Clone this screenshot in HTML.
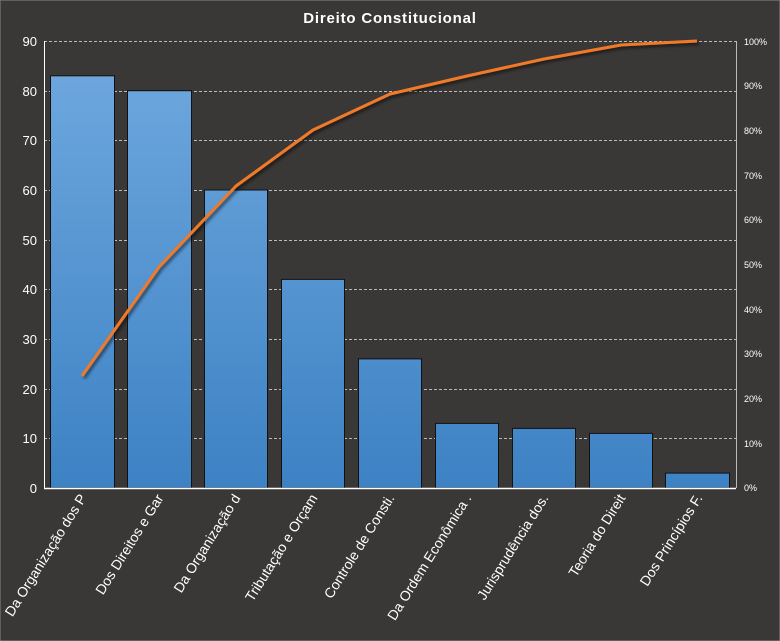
<!DOCTYPE html>
<html><head><meta charset="utf-8"><style>
body{margin:0;background:#3a3836;}
svg{display:block;font-family:"Liberation Sans","DejaVu Sans",sans-serif;}
</style></head><body>
<svg width="780" height="641" viewBox="0 0 780 641" xmlns="http://www.w3.org/2000/svg">
<defs>
<linearGradient id="g" gradientUnits="userSpaceOnUse" x1="0" y1="41" x2="0" y2="488">
<stop offset="0" stop-color="#70a9df"/><stop offset="1" stop-color="#3d82c4"/>
</linearGradient>
<filter id="sh"><feDropShadow dx="2" dy="2" stdDeviation="1.5" flood-color="#000" flood-opacity="0.6"/></filter>
</defs>
<rect x="0" y="0" width="780" height="641" fill="#3a3836" stroke="#888" stroke-width="1"/>
<text x="390" y="23" fill="#fff" font-size="15" font-weight="bold" text-anchor="middle" letter-spacing="0.8">Direito  Constitucional</text>
<g stroke="#bbb" stroke-width="1" stroke-dasharray="3,2">
<line x1="44" x2="736" y1="41.5" y2="41.5"/>
<line x1="44" x2="736" y1="91.5" y2="91.5"/>
<line x1="44" x2="736" y1="140.5" y2="140.5"/>
<line x1="44" x2="736" y1="190.5" y2="190.5"/>
<line x1="44" x2="736" y1="240.5" y2="240.5"/>
<line x1="44" x2="736" y1="289.5" y2="289.5"/>
<line x1="44" x2="736" y1="339.5" y2="339.5"/>
<line x1="44" x2="736" y1="389.5" y2="389.5"/>
<line x1="44" x2="736" y1="438.5" y2="438.5"/>
</g>
<g fill="url(#g)" stroke="#111" stroke-width="1">
<rect x="50.5" y="75.8" width="64" height="412.2"/>
<rect x="127.5" y="90.7" width="64" height="397.3"/>
<rect x="204.5" y="190" width="63" height="298"/>
<rect x="281.5" y="279.4" width="63" height="208.6"/>
<rect x="358.5" y="358.9" width="63" height="129.1"/>
<rect x="435.5" y="423.4" width="63" height="64.6"/>
<rect x="512.5" y="428.4" width="63" height="59.6"/>
<rect x="589.5" y="433.4" width="63" height="54.6"/>
<rect x="665.5" y="473.1" width="64" height="14.9"/>
</g>
<line x1="44" x2="736" y1="488.5" y2="488.5" stroke="#fff" stroke-width="1.5"/>
<line x1="44.5" x2="44.5" y1="41" y2="488" stroke="#fff" stroke-width="1"/>
<line x1="736.5" x2="736.5" y1="41" y2="488" stroke="#bbb" stroke-width="1"/>
<polyline filter="url(#sh)" fill="none" stroke="#f07a2a" stroke-width="3" stroke-linejoin="round" points="82,376 159,267 236,186 313,130 390,94 467,76 544,59 621,45 697,41"/>
<g fill="#fff" font-size="13" text-anchor="end">
<text x="37" y="46">90</text><text x="37" y="96">80</text><text x="37" y="145">70</text>
<text x="37" y="195">60</text><text x="37" y="245">50</text><text x="37" y="294">40</text>
<text x="37" y="344">30</text><text x="37" y="394">20</text><text x="37" y="443">10</text>
<text x="37" y="493">0</text>
</g>
<g fill="#fff" font-size="9">
<text x="744" y="45">100%</text><text x="744" y="89">90%</text><text x="744" y="134">80%</text>
<text x="744" y="179">70%</text><text x="744" y="223">60%</text><text x="744" y="268">50%</text>
<text x="744" y="313">40%</text><text x="744" y="357">30%</text><text x="744" y="402">20%</text>
<text x="744" y="447">10%</text><text x="744" y="491">0%</text>
</g>
<g fill="#fff" font-size="14" text-anchor="end">
<text transform="translate(87,498) rotate(-58)">Da Organização dos P</text>
<text transform="translate(164,498) rotate(-58)">Dos Direitos e Gar</text>
<text transform="translate(241,498) rotate(-58)">Da Organização d</text>
<text transform="translate(318,498) rotate(-58)">Tributação e Orçam</text>
<text transform="translate(395,498) rotate(-58)">Controle de Consti.</text>
<text transform="translate(472,498) rotate(-58)">Da Ordem Econômica .</text>
<text transform="translate(549,498) rotate(-58)">Jurisprudência dos.</text>
<text transform="translate(626,498) rotate(-58)">Teoria do Direit</text>
<text transform="translate(703,498) rotate(-58)">Dos Princípios F.</text>
</g>
</svg>
</body></html>
